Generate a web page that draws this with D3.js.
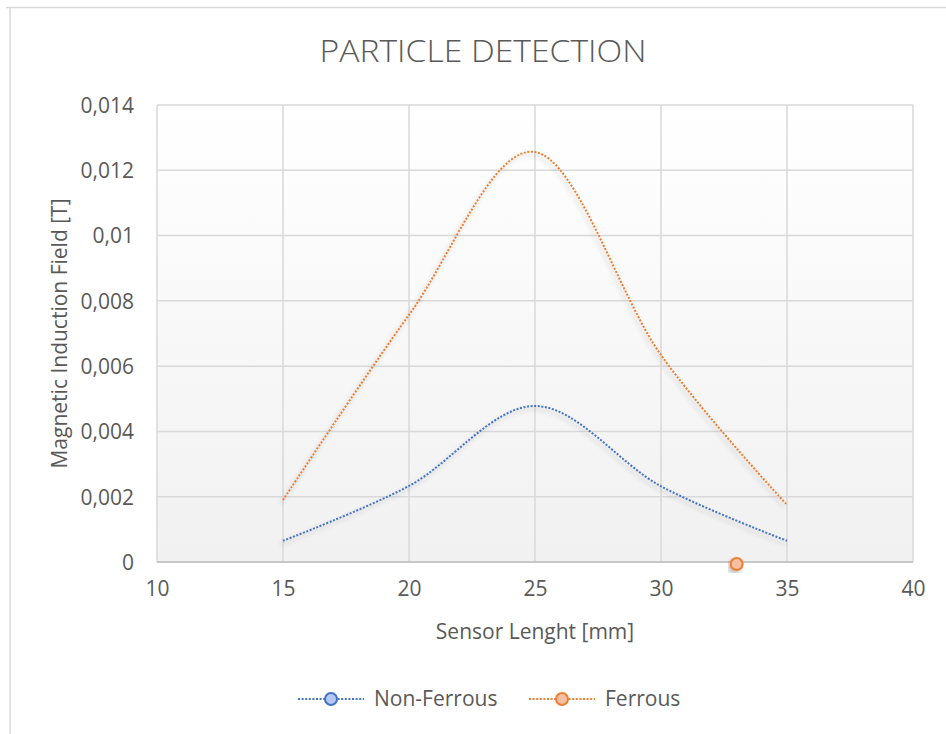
<!DOCTYPE html>
<html>
<head>
<meta charset="utf-8">
<script src="https://cdn.jsdelivr.net/npm/d3@7"></script>
<style>
  body { margin: 0; background: #fff; }
  text { font-family: "Open Sans", sans-serif; fill: #595959; }
</style>
</head>
<body>
<div id="chart"></div>
<script>
// data
const sensorLength = [15, 20, 25, 30, 35];
const nonFerrous = [0.00065, 0.00233, 0.00478, 0.00232, 0.00065];
const ferrous = [0.00190, 0.00757, 0.01256, 0.00634, 0.00175];
const strayPoint = [[33, -0.00006]]; // lone ferrous marker sitting on the axis
const xTicks = [10, 15, 20, 25, 30, 35, 40];
const yTicks = [0, 0.002, 0.004, 0.006, 0.008, 0.01, 0.012, 0.014];
const seriesNames = ["Non-Ferrous", "Ferrous"];
const seriesColors = ["#4472C4", "#ED7D31"];
const markerFills = ["#b4c7f0", "#f8c0a0"];

const width = 946, height = 734;
const margin = { left: 157, right: 33, top: 105, bottom: 172 };

const svg = d3.select("#chart").append("svg")
  .attr("width", width)
  .attr("height", height);

const defs = svg.append("defs");
const grad = defs.append("linearGradient")
  .attr("id", "bg").attr("x1", 0).attr("y1", 0).attr("x2", 0).attr("y2", 1);
grad.append("stop").attr("offset", "0%").attr("stop-color", "#ffffff");
grad.append("stop").attr("offset", "100%").attr("stop-color", "#f1f1f1");

const shadow = defs.append("filter").attr("id", "shadow")
  .attr("x", "-20%").attr("y", "-20%").attr("width", "140%").attr("height", "140%");
shadow.append("feGaussianBlur").attr("in", "SourceAlpha").attr("stdDeviation", 2.5).attr("result", "b");
shadow.append("feOffset").attr("in", "b").attr("dx", -2).attr("dy", 3).attr("result", "o");
shadow.append("feComponentTransfer").attr("in", "o").attr("result", "s")
  .append("feFuncA").attr("type", "linear").attr("slope", 0.25);
const merge = shadow.append("feMerge");
merge.append("feMergeNode").attr("in", "s");
merge.append("feMergeNode").attr("in", "SourceGraphic");

// outer chart frame
svg.append("line").attr("x1", 6).attr("x2", width).attr("y1", 7.5).attr("y2", 7.5)
  .attr("stroke", "#d9d9d9").attr("stroke-width", 1.5);
svg.append("line").attr("x1", 10).attr("x2", 10).attr("y1", 7).attr("y2", height)
  .attr("stroke", "#d9d9d9").attr("stroke-width", 1.5);

const x = d3.scaleLinear().domain([10, 40]).range([margin.left, width - margin.right]);
const y = d3.scaleLinear().domain([0, 0.014]).range([height - margin.bottom, margin.top]);

// plot background
svg.append("rect")
  .attr("x", x(10)).attr("y", y(0.014))
  .attr("width", x(40) - x(10)).attr("height", y(0) - y(0.014))
  .attr("fill", "url(#bg)");

// gridlines
svg.append("g").selectAll("line").data(yTicks).enter().append("line")
  .attr("x1", x(10)).attr("x2", x(40))
  .attr("y1", d => y(d)).attr("y2", d => y(d))
  .attr("stroke", "#d9d9d9").attr("stroke-width", 1.5);
svg.append("g").selectAll("line").data(xTicks).enter().append("line")
  .attr("x1", d => x(d)).attr("x2", d => x(d))
  .attr("y1", y(0)).attr("y2", y(0.014))
  .attr("stroke", "#d9d9d9").attr("stroke-width", 1.5);
svg.append("line")
  .attr("x1", x(10)).attr("x2", x(40)).attr("y1", y(0)).attr("y2", y(0))
  .attr("stroke", "#bfbfbf").attr("stroke-width", 1.5);

// axes
const fmt = d => d === 0 ? "0" : d3.format("")(+d.toFixed(3)).replace(".", ",");
const yAxis = svg.append("g")
  .attr("transform", "translate(" + (x(10) - 23) + ",0)")
  .call(d3.axisLeft(y).tickValues(yTicks).tickSize(0).tickPadding(0).tickFormat(fmt));
yAxis.select(".domain").remove();
yAxis.selectAll("text").style("font-size", "21px").attr("dy", "0.35em").attr("fill", "#595959");

const xAxis = svg.append("g")
  .attr("transform", "translate(0," + (y(0) + 19) + ")")
  .call(d3.axisBottom(x).tickValues(xTicks).tickSize(0).tickPadding(0));
xAxis.select(".domain").remove();
xAxis.selectAll("text").style("font-size", "21px").attr("dy", "0.71em").attr("fill", "#595959");

// titles
svg.append("text")
  .attr("x", 483).attr("y", 62)
  .attr("text-anchor", "middle")
  .attr("textLength", 327).attr("lengthAdjust", "spacingAndGlyphs")
  .style("font-size", "31px").style("font-weight", 300)
  .text("PARTICLE DETECTION");

svg.append("text")
  .attr("x", (x(10) + x(40)) / 2).attr("y", 639)
  .attr("text-anchor", "middle")
  .style("font-size", "21px")
  .text("Sensor Lenght [mm]");

svg.append("text")
  .attr("transform", "translate(67," + ((y(0) + y(0.014)) / 2) + ") rotate(-90)")
  .attr("text-anchor", "middle")
  .style("font-size", "21px")
  .text("Magnetic Induction Field [T]");

// series lines
const line = d3.line()
  .x(d => x(d[0])).y(d => y(d[1]))
  .curve(d3.curveCatmullRom.alpha(0));

[nonFerrous, ferrous].forEach((vals, i) => {
  svg.append("path")
    .datum(sensorLength.map((s, j) => [s, vals[j]]))
    .attr("d", line)
    .attr("fill", "none")
    .attr("stroke", seriesColors[i])
    .attr("stroke-width", 2)
    .attr("stroke-dasharray", "2 1.6")
    .attr("filter", "url(#shadow)");
});

// stray marker
svg.selectAll(".stray").data(strayPoint).enter().append("circle")
  .attr("class", "stray")
  .attr("cx", d => x(d[0])).attr("cy", d => y(d[1]))
  .attr("r", 6)
  .attr("fill", markerFills[1])
  .attr("stroke", seriesColors[1]).attr("stroke-width", 2)
  .attr("filter", "url(#shadow)");

// legend
const legendX = [298, 529];
const legend = svg.selectAll(".legend").data(seriesNames).enter().append("g")
  .attr("class", "legend")
  .attr("transform", (d, i) => "translate(" + legendX[i] + ",699)");
legend.append("line")
  .attr("x1", 0).attr("x2", 66).attr("y1", 0).attr("y2", 0)
  .attr("stroke", (d, i) => seriesColors[i])
  .attr("stroke-width", 2).attr("stroke-dasharray", "2 1.6");
legend.append("circle")
  .attr("cx", 33).attr("cy", 0).attr("r", 6)
  .attr("fill", (d, i) => markerFills[i])
  .attr("stroke", (d, i) => seriesColors[i]).attr("stroke-width", 2);
legend.append("text")
  .attr("x", 76).attr("y", 0).attr("dy", "0.35em")
  .style("font-size", "21px")
  .text(d => d);
</script>
</body>
</html>
